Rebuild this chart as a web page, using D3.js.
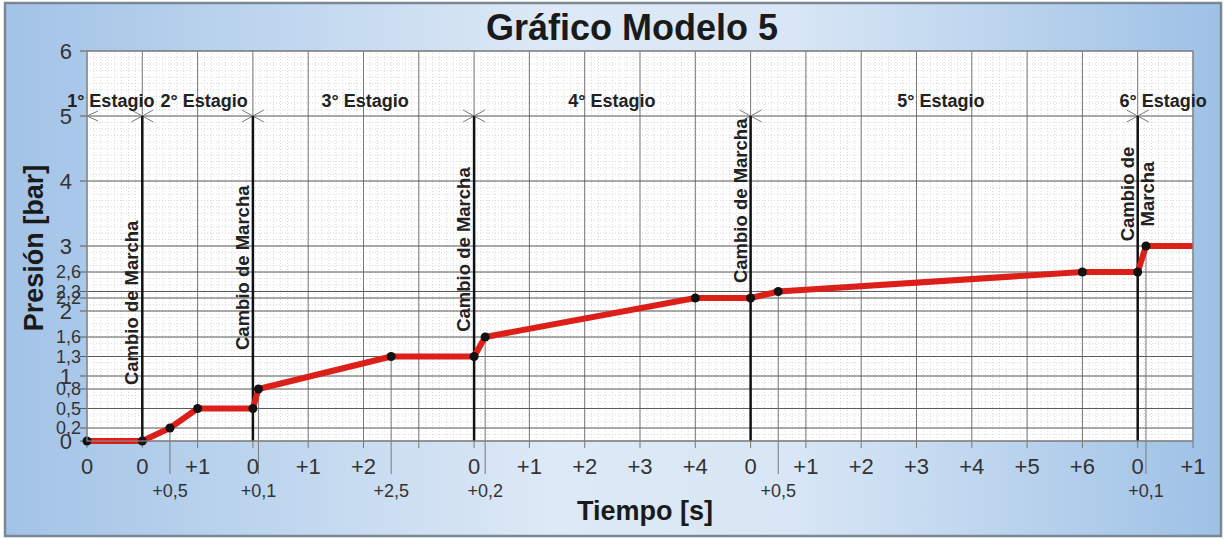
<!DOCTYPE html>
<html>
<head>
<meta charset="utf-8">
<script src="https://cdn.jsdelivr.net/npm/d3@7"></script>
<style>
  body { margin: 0; background: #fff; }
  text { font-family: "Liberation Sans", Arial, sans-serif; }
</style>
</head>
<body>
<svg id="chart" width="1224" height="539"></svg>
<script>
// time axis is a grid of 20 equal steps, each step relabelled per stage
var seriesX = [0, 1, 1.5, 2, 3, 3.1, 5.5, 7, 7.2, 11, 12, 12.5, 18, 19, 19.15, 20];
var seriesY = [0, 0, 0.2, 0.5, 0.5, 0.8, 1.3, 1.3, 1.6, 2.2, 2.2, 2.3, 2.6, 2.6, 3, 3];

var majorTickLabels = ["0", "0", "+1", "0", "+1", "+2", "", "0", "+1", "+2", "+3", "+4",
                       "0", "+1", "+2", "+3", "+4", "+5", "+6", "0", "+1"];
var subTickPos = [1.5, 3.1, 5.5, 7.2, 12.5, 19.15];
var subTickLabels = ["+0,5", "+0,1", "+2,5", "+0,2", "+0,5", "+0,1"];

var yTicks = [0, 0.2, 0.5, 0.8, 1, 1.3, 1.6, 2, 2.2, 2.3, 2.6, 3, 4, 5, 6];

var cambioPos = [1, 3, 7, 12, 19];
var stageNames = ["1° Estagio", "2° Estagio", "3° Estagio", "4° Estagio", "5° Estagio", "6° Estagio"];

// layout only
var stageLabelAt = [0.43, 2.12, 5.03, 9.49, 15.44, 19.46];
var cambioTextAt = [0.86, 1.4, 1.68, 2.43];

var svg = d3.select("#chart");

var x = d3.scaleLinear().domain([0, 20]).range([87, 1193]);
var y = d3.scaleLinear().domain([0, 6]).range([441, 51]);

// background
var defs = svg.append("defs");
var grad = defs.append("linearGradient").attr("id", "bg").attr("x1", 0).attr("x2", 1).attr("y1", 0).attr("y2", 0);
grad.append("stop").attr("offset", "0%").attr("stop-color", "#a2c3e7");
grad.append("stop").attr("offset", "45%").attr("stop-color", "#dde9f6");
grad.append("stop").attr("offset", "65%").attr("stop-color", "#d8e6f5");
grad.append("stop").attr("offset", "100%").attr("stop-color", "#9ec1e6");

svg.append("rect").attr("x", 5).attr("y", 3).attr("width", 1216).attr("height", 533)
  .attr("fill", "url(#bg)").attr("stroke", "#7b8894").attr("stroke-width", 2.5);

// plot area
svg.append("rect").attr("x", x(0)).attr("y", y(6)).attr("width", x(20) - x(0)).attr("height", y(0) - y(6))
  .attr("fill", "#fff");

var g = svg.append("g");

// fine dotted paper grid
var minorX = d3.range(0, 20.001, 1 / 8);
var minorY = d3.range(0, 6.001, 0.1);
g.append("g").selectAll("line").data(minorX).enter().append("line")
  .attr("x1", function (d) { return x(d); }).attr("x2", function (d) { return x(d); })
  .attr("y1", y(0)).attr("y2", y(6))
  .attr("stroke", "#cfcfcf").attr("stroke-width", 0.8).attr("stroke-dasharray", "1,2");
g.append("g").selectAll("line").data(minorY).enter().append("line")
  .attr("x1", x(0)).attr("x2", x(20))
  .attr("y1", function (d) { return y(d); }).attr("y2", function (d) { return y(d); })
  .attr("stroke", "#cfcfcf").attr("stroke-width", 0.8).attr("stroke-dasharray", "1,2");

// major grid lines + ticks
g.append("g").selectAll("line").data(d3.range(0, 21)).enter().append("line")
  .attr("x1", function (d) { return x(d); }).attr("x2", function (d) { return x(d); })
  .attr("y1", y(6)).attr("y2", y(0) + 7)
  .attr("stroke", "#777").attr("stroke-width", 1);
g.append("g").selectAll("line").data(yTicks).enter().append("line")
  .attr("x1", x(0) - 7).attr("x2", x(20))
  .attr("y1", function (d) { return y(d); }).attr("y2", function (d) { return y(d); })
  .attr("stroke", "#5a5a5a").attr("stroke-width", 1);

// sub ticks: from the point down under the axis
g.append("g").selectAll("line").data(subTickPos).enter().append("line")
  .attr("x1", function (d) { return x(d); }).attr("x2", function (d) { return x(d); })
  .attr("y1", function (d) { return y(seriesY[seriesX.indexOf(d)]); })
  .attr("y2", y(0) + 33)
  .attr("stroke", "#777").attr("stroke-width", 1);

svg.append("rect").attr("x", x(0)).attr("y", y(6)).attr("width", x(20) - x(0)).attr("height", y(0) - y(6))
  .attr("fill", "none").attr("stroke", "#8a8a8a").attr("stroke-width", 1.2);

// stage markers on the 5 bar line
var mk = g.append("g").attr("stroke", "#7a7a7a").attr("stroke-width", 1).attr("fill", "none");
mk.append("path").attr("d", "M" + (x(0) + 11) + "," + (y(5) - 5) + "L" + x(0) + "," + y(5) + "L" + (x(0) + 11) + "," + (y(5) + 5));
cambioPos.forEach(function (c) {
  var cx = x(c), cy = y(5);
  mk.append("path").attr("d", "M" + (cx - 11) + "," + (cy - 6) + "L" + (cx + 11) + "," + (cy + 6) +
    "M" + (cx - 11) + "," + (cy + 6) + "L" + (cx + 11) + "," + (cy - 6));
});

// gear change lines
g.append("g").selectAll("line").data(cambioPos).enter().append("line")
  .attr("x1", function (d) { return x(d); }).attr("x2", function (d) { return x(d); })
  .attr("y1", y(0)).attr("y2", y(5))
  .attr("stroke", "#111").attr("stroke-width", 2.5);

// stage names
svg.append("g").selectAll("text").data(stageNames).enter().append("text")
  .attr("x", function (d, i) { return x(stageLabelAt[i]); })
  .attr("y", y(5) - 9)
  .attr("text-anchor", "middle").attr("font-size", 18).attr("font-weight", "bold").attr("fill", "#222")
  .text(function (d) { return d; });

// "Cambio de Marcha" labels
cambioTextAt.forEach(function (v, i) {
  svg.append("text")
    .attr("transform", "translate(" + (x(cambioPos[i]) - 4) + "," + y(v) + ") rotate(-90)")
    .attr("font-size", 18.5).attr("font-weight", "bold").attr("fill", "#222")
    .text("Cambio de Marcha");
});
var lastC = x(cambioPos[4]);
svg.append("text").attr("transform", "translate(" + (lastC - 4) + "," + y(3.8) + ") rotate(-90)")
  .attr("text-anchor", "middle").attr("font-size", 18.5).attr("font-weight", "bold").attr("fill", "#222")
  .text("Cambio de");
svg.append("text").attr("transform", "translate(" + (lastC + 16) + "," + y(3.8) + ") rotate(-90)")
  .attr("text-anchor", "middle").attr("font-size", 18.5).attr("font-weight", "bold").attr("fill", "#222")
  .text("Marcha");

// pressure curve
var line = d3.line().x(function (d) { return x(d[0]); }).y(function (d) { return y(d[1]); });
var pts = seriesX.map(function (v, i) { return [v, seriesY[i]]; });
g.append("path").datum(pts).attr("d", line)
  .attr("fill", "none").attr("stroke", "#dd1f1a").attr("stroke-width", 6).attr("stroke-linejoin", "round");
g.append("g").selectAll("circle").data(pts.slice(0, -1)).enter().append("circle")
  .attr("cx", function (d) { return x(d[0]); }).attr("cy", function (d) { return y(d[1]); })
  .attr("r", 4.5).attr("fill", "#111");

// y tick labels
svg.append("g").selectAll("text").data(yTicks).enter().append("text")
  .attr("x", function (d) { return Number.isInteger(d) ? 72 : 81; })
  .attr("y", function (d) { return y(d); })
  .attr("dy", "0.36em").attr("text-anchor", "end")
  .attr("font-size", function (d) { return Number.isInteger(d) ? 22 : 18; })
  .attr("fill", "#333")
  .text(function (d) { return String(d).replace(".", ","); });

// x tick labels
svg.append("g").selectAll("text").data(majorTickLabels).enter().append("text")
  .attr("x", function (d, i) { return x(i); })
  .attr("y", 474).attr("text-anchor", "middle").attr("font-size", 22).attr("fill", "#333")
  .text(function (d) { return d; });
svg.append("g").selectAll("text").data(subTickLabels).enter().append("text")
  .attr("x", function (d, i) { return x(subTickPos[i]); })
  .attr("y", 497).attr("text-anchor", "middle").attr("font-size", 18).attr("fill", "#333")
  .text(function (d) { return d; });

// titles
svg.append("text").attr("x", 632).attr("y", 40).attr("text-anchor", "middle")
  .attr("font-size", 36).attr("font-weight", "bold").attr("fill", "#1a1a1a").text("Gráfico Modelo 5");
svg.append("text").attr("x", 645).attr("y", 520).attr("text-anchor", "middle")
  .attr("font-size", 27).attr("font-weight", "bold").attr("fill", "#1a1a1a").text("Tiempo [s]");
svg.append("text").attr("transform", "translate(43,248) rotate(-90)").attr("text-anchor", "middle")
  .attr("font-size", 27).attr("font-weight", "bold").attr("fill", "#1a1a1a").text("Presión [bar]");
</script>
</body>
</html>
